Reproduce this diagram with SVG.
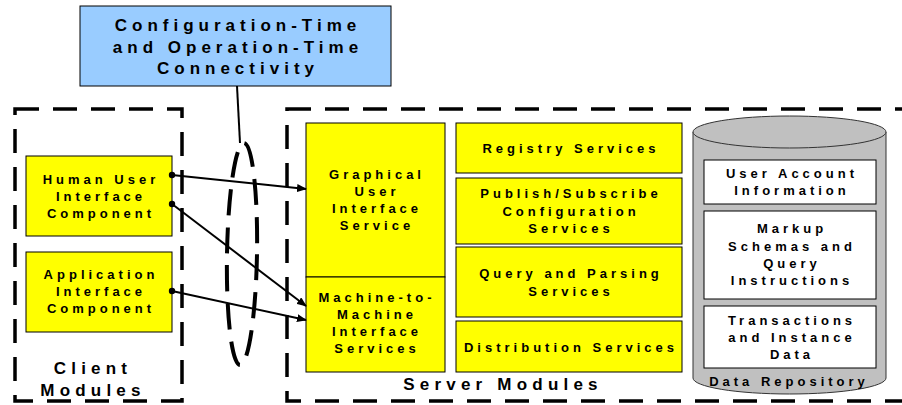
<svg xmlns="http://www.w3.org/2000/svg" width="902" height="405" viewBox="0 0 902 405">
<defs>
<marker id="arr" markerWidth="10" markerHeight="8" refX="9" refY="4" orient="auto" markerUnits="userSpaceOnUse">
<path d="M0,0 L10,4 L0,8 Z" fill="#000"/>
</marker>
<marker id="dot" markerWidth="8" markerHeight="8" refX="4" refY="4" markerUnits="userSpaceOnUse">
<circle cx="4" cy="4" r="3.2" fill="#000"/>
</marker>
<style>
text{font-family:"Liberation Sans",Arial,sans-serif;font-weight:bold;fill:#000;text-anchor:middle}
.t{font-size:13px;letter-spacing:4px}
.big{font-size:17px;letter-spacing:5.2px}
.title{font-size:17px;letter-spacing:5px}
.yel{fill:#FFFF00;stroke:#000;stroke-width:1}
.wht{fill:#FFFFFF;stroke:#000;stroke-width:1}
.dash{fill:none;stroke:#000;stroke-width:3.5;stroke-dasharray:24 14}
.conn{fill:none;stroke:#000;stroke-width:2}
</style>
</defs>
<rect width="902" height="405" fill="#fff"/>

<g id="client-modules">
<rect class="dash" x="15" y="109" width="167" height="292"/>
<text class="big" x="93" y="374">Client</text>
<text class="big" x="93" y="396">Modules</text>
</g>

<g id="server-modules">
<rect class="dash" x="287" y="109" width="640" height="292"/>
<text class="big" x="503" y="390">Server Modules</text>
</g>

<g id="connectivity">
<rect x="80" y="6" width="311" height="80" fill="#99CCFF" stroke="#000" stroke-width="1"/>
<text class="title" x="238" y="31">Configuration-Time</text>
<text class="title" x="238" y="53">and Operation-Time</text>
<text class="title" x="238" y="74">Connectivity</text>
</g>

<g id="human-ui">
<rect class="yel" x="26" y="156" width="146" height="80"/>
<text class="t" x="101" y="184">Human User</text>
<text class="t" x="101" y="201">Interface</text>
<text class="t" x="101" y="218">Component</text>
</g>

<g id="app-if">
<rect class="yel" x="26" y="252" width="146" height="80"/>
<text class="t" x="101" y="279">Application</text>
<text class="t" x="101" y="296">Interface</text>
<text class="t" x="101" y="313">Component</text>
</g>

<g id="gui-service">
<rect class="yel" x="306" y="123" width="139" height="154"/>
<text class="t" x="377" y="179">Graphical</text>
<text class="t" x="377" y="196">User</text>
<text class="t" x="377" y="213">Interface</text>
<text class="t" x="377" y="230">Service</text>
</g>

<g id="m2m-service">
<rect class="yel" x="306" y="277" width="139" height="95"/>
<text class="t" x="377" y="302">Machine-to-</text>
<text class="t" x="377" y="319">Machine</text>
<text class="t" x="377" y="336">Interface</text>
<text class="t" x="377" y="353">Services</text>
</g>

<g id="registry">
<rect class="yel" x="456" y="123" width="226" height="50"/>
<text class="t" x="571" y="153">Registry Services</text>
</g>

<g id="pubsub">
<rect class="yel" x="456" y="178" width="226" height="66"/>
<text class="t" x="571" y="198">Publish/Subscribe</text>
<text class="t" x="571" y="216">Configuration</text>
<text class="t" x="571" y="233">Services</text>
</g>

<g id="query">
<rect class="yel" x="456" y="247" width="226" height="70"/>
<text class="t" x="571" y="278">Query and Parsing</text>
<text class="t" x="571" y="296">Services</text>
</g>

<g id="distribution">
<rect class="yel" x="456" y="321" width="226" height="51"/>
<text class="t" x="571" y="352">Distribution Services</text>
</g>

<g id="data-repository">
<path d="M693,132 L693,378 A96.5,16 0 0 0 886,378 L886,132" fill="#C0C0C0" stroke="#333" stroke-width="1"/>
<ellipse cx="789.5" cy="132" rx="96.5" ry="16" fill="#C0C0C0" stroke="#333" stroke-width="1"/>
<text class="t" x="789" y="386">Data Repository</text>
</g>

<g id="user-account">
<rect class="wht" x="704" y="160" width="172" height="44"/>
<text class="t" x="792" y="178">User Account</text>
<text class="t" x="792" y="195">Information</text>
</g>

<g id="markup">
<rect class="wht" x="704" y="211" width="172" height="88"/>
<text class="t" x="792" y="233">Markup</text>
<text class="t" x="792" y="251">Schemas and</text>
<text class="t" x="792" y="268">Query</text>
<text class="t" x="792" y="285">Instructions</text>
</g>

<g id="transactions">
<rect class="wht" x="704" y="306" width="172" height="62"/>
<text class="t" x="792" y="325">Transactions</text>
<text class="t" x="792" y="342">and Instance</text>
<text class="t" x="792" y="359">Data</text>
</g>

<g id="connectors">
<line class="conn" x1="237" y1="86" x2="240" y2="143" stroke-width="1"/>
<ellipse cx="242" cy="254" rx="15" ry="111" fill="none" stroke="#000" stroke-width="4" stroke-dasharray="26 12" transform="rotate(1 242 254)"/>
<line class="conn" x1="172" y1="175" x2="306" y2="189" marker-start="url(#dot)" marker-end="url(#arr)"/>
<line class="conn" x1="172" y1="204" x2="306" y2="306" marker-start="url(#dot)" marker-end="url(#arr)"/>
<line class="conn" x1="172" y1="291" x2="306" y2="320" marker-start="url(#dot)" marker-end="url(#arr)"/>
</g>
</svg>
